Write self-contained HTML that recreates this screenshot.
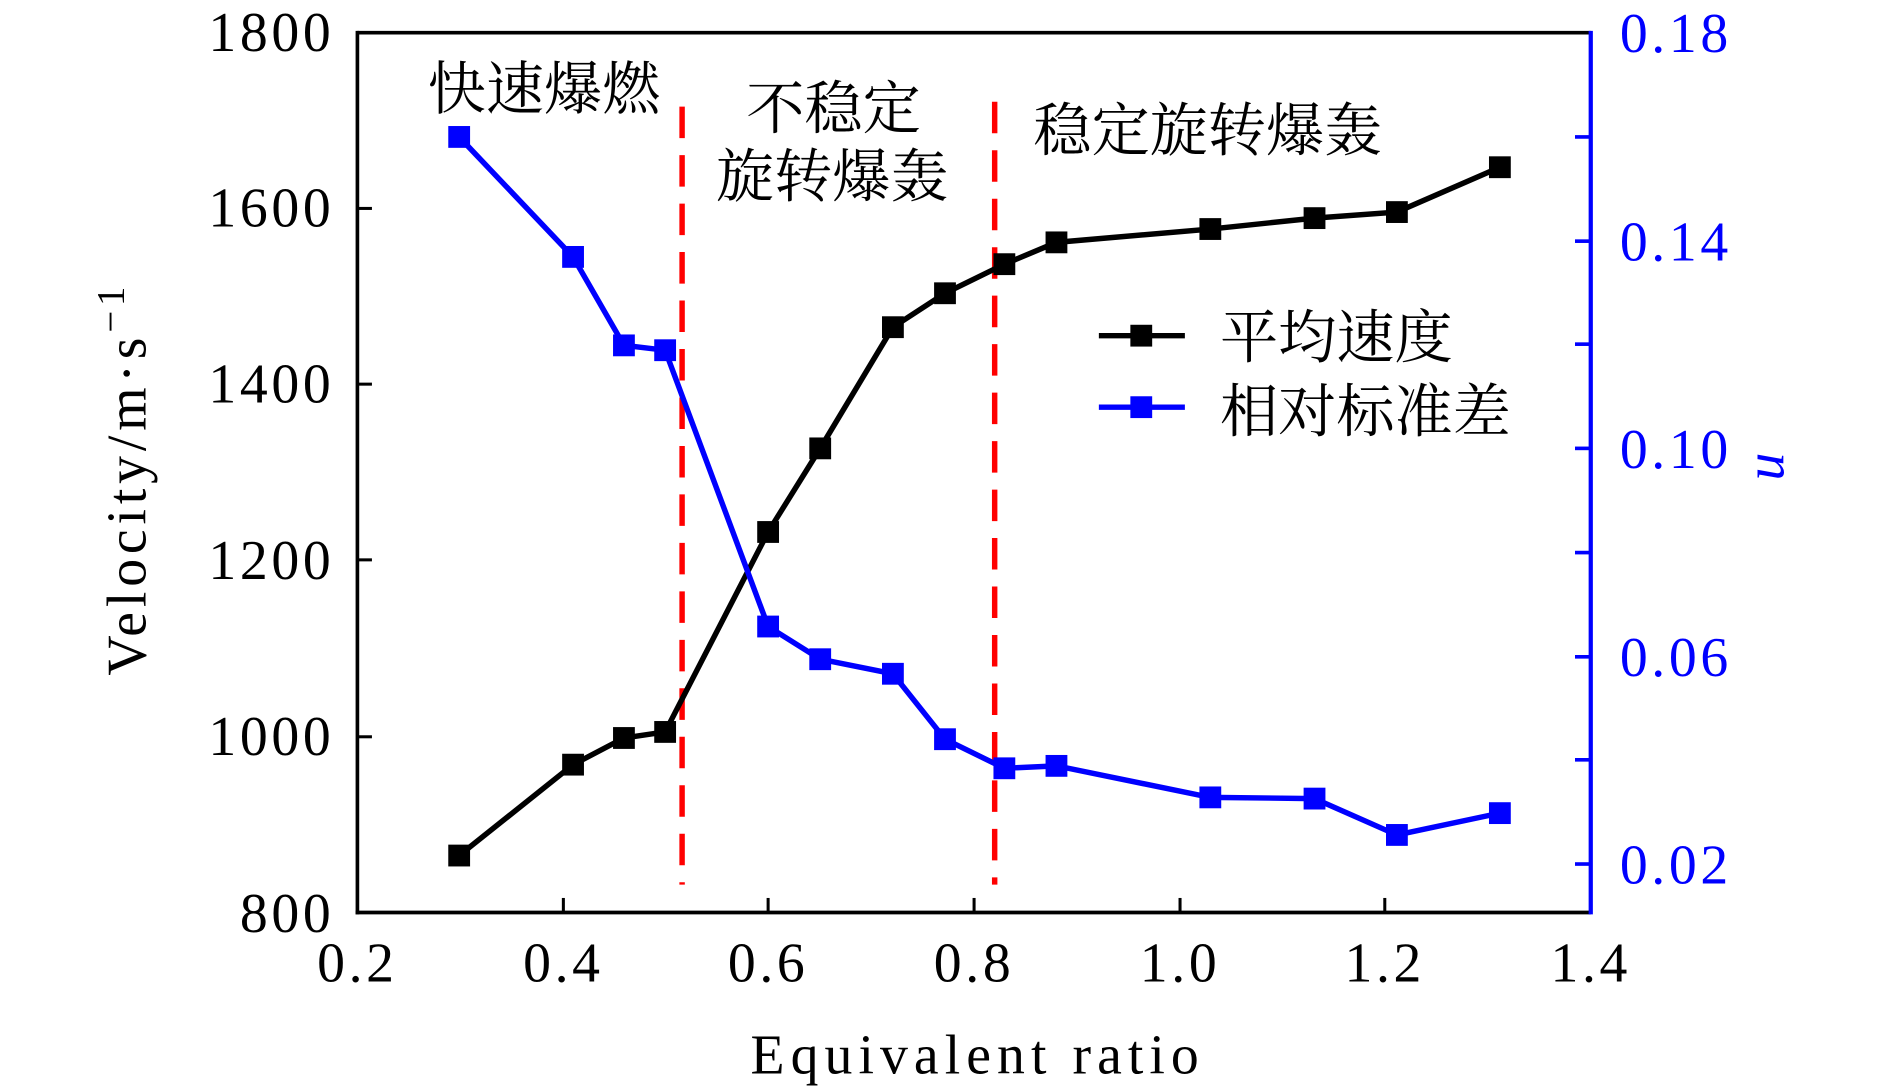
<!DOCTYPE html>
<html><head><meta charset="utf-8"><style>html,body{margin:0;padding:0;background:#fff;}svg{display:block}</style></head>
<body>
<svg width="1890" height="1087" viewBox="0 0 1560 897" preserveAspectRatio="none" xmlns="http://www.w3.org/2000/svg">
<g font-family="Liberation Serif, serif" font-size="46">
<line x1="295" y1="27" x2="1313" y2="27" stroke="#000" stroke-width="3"/>
<line x1="295" y1="25.5" x2="295" y2="754.5" stroke="#000" stroke-width="3"/>
<line x1="293.5" y1="753" x2="1313" y2="753" stroke="#000" stroke-width="3"/>
<line x1="1313" y1="25.5" x2="1313" y2="754.5" stroke="#0000ff" stroke-width="3.5"/>
<g stroke="#000" stroke-width="2.5">
<line x1="295" y1="172" x2="307" y2="172"/><line x1="295" y1="317" x2="307" y2="317"/>
<line x1="295" y1="462" x2="307" y2="462"/><line x1="295" y1="608" x2="307" y2="608"/>
<line x1="465" y1="753" x2="465" y2="741"/><line x1="634" y1="753" x2="634" y2="741"/>
<line x1="804" y1="753" x2="804" y2="741"/><line x1="974" y1="753" x2="974" y2="741"/>
<line x1="1143" y1="753" x2="1143" y2="741"/>
</g>
<g stroke="#0000ff" stroke-width="3">
<line x1="1300" y1="113" x2="1313" y2="113"/><line x1="1300" y1="199" x2="1313" y2="199"/>
<line x1="1300" y1="284" x2="1313" y2="284"/><line x1="1300" y1="370" x2="1313" y2="370"/>
<line x1="1300" y1="456" x2="1313" y2="456"/><line x1="1300" y1="542" x2="1313" y2="542"/>
<line x1="1300" y1="627" x2="1313" y2="627"/><line x1="1300" y1="713" x2="1313" y2="713"/>
</g>
<g text-anchor="end" letter-spacing="3">
<text x="276" y="42">1800</text><text x="276" y="187">1600</text><text x="276" y="332">1400</text>
<text x="276" y="478">1200</text><text x="276" y="623">1000</text><text x="276" y="769">800</text>
</g>
<g text-anchor="middle" letter-spacing="3">
<text x="295" y="810">0.2</text><text x="465" y="810">0.4</text><text x="634" y="810">0.6</text>
<text x="804" y="810">0.8</text><text x="974" y="810">1.0</text><text x="1143" y="810">1.2</text><text x="1313" y="810">1.4</text>
<text x="807" y="886" letter-spacing="5">Equivalent ratio</text>
</g>
<g fill="#0000ff" letter-spacing="3">
<text x="1337" y="43">0.18</text><text x="1337" y="215">0.14</text><text x="1337" y="386">0.10</text>
<text x="1337" y="558">0.06</text><text x="1337" y="729">0.02</text>
</g>
<text fill="#0000ff" font-style="italic" transform="translate(1472,385) rotate(-90)" text-anchor="middle">u</text>
<text transform="translate(120,395) rotate(-90)" text-anchor="middle" letter-spacing="4">Velocity/m·s<tspan font-size="32" dy="-18">−1</tspan></text>
<g stroke="#ff0000" stroke-width="4.5" stroke-dasharray="26,14">
<line x1="563" y1="88" x2="563" y2="730"/><line x1="821" y1="84" x2="821" y2="730"/>
</g>
<g font-family="Liberation Serif, 'Noto Serif CJK SC', 'Noto Sans CJK SC', serif" font-size="48">
<text x="353" y="90">快速爆燃</text>
<text x="616" y="106">不稳定</text>
<text x="591" y="162">旋转爆轰</text>
<text x="853" y="124">稳定旋转爆轰</text>
<text x="1007" y="295">平均速度</text>
<text x="1007" y="356">相对标准差</text>
</g>
<line x1="907" y1="277" x2="978" y2="277" stroke="#000" stroke-width="4.5"/>
<rect x="933" y="268" width="18" height="18" fill="#000"/>
<line x1="907" y1="336" x2="978" y2="336" stroke="#0000ff" stroke-width="4.5"/>
<rect x="933" y="327" width="18" height="18" fill="#0000ff"/>
<polyline fill="none" stroke="#000" stroke-width="4.5" points="379,706 473,631 515,609 549,604 634,439 677,370 737,270 780,242 829,218 872,200 999,189 1085,180 1153,175 1238,138"/>
<polyline fill="none" stroke="#0000ff" stroke-width="4.5" points="379,113 473,212 515,285 549,289 634,517 677,544 737,556 780,610 829,634 872,632 999,658 1085,659 1153,689 1238,671"/>
<g fill="#000" transform="translate(-1,-1)">
<rect x="371" y="698" width="18" height="18"/><rect x="465" y="623" width="18" height="18"/><rect x="507" y="601" width="18" height="18"/><rect x="541" y="596" width="18" height="18"/><rect x="626" y="431" width="18" height="18"/><rect x="669" y="362" width="18" height="18"/><rect x="729" y="262" width="18" height="18"/><rect x="772" y="234" width="18" height="18"/><rect x="821" y="210" width="18" height="18"/><rect x="864" y="192" width="18" height="18"/><rect x="991" y="181" width="18" height="18"/><rect x="1077" y="172" width="18" height="18"/><rect x="1145" y="167" width="18" height="18"/><rect x="1230" y="130" width="18" height="18"/>
</g>
<g fill="#0000ff" transform="translate(-1,-1)">
<rect x="371" y="105" width="18" height="18"/><rect x="465" y="204" width="18" height="18"/><rect x="507" y="277" width="18" height="18"/><rect x="541" y="281" width="18" height="18"/><rect x="626" y="509" width="18" height="18"/><rect x="669" y="536" width="18" height="18"/><rect x="729" y="548" width="18" height="18"/><rect x="772" y="602" width="18" height="18"/><rect x="821" y="626" width="18" height="18"/><rect x="864" y="624" width="18" height="18"/><rect x="991" y="650" width="18" height="18"/><rect x="1077" y="651" width="18" height="18"/><rect x="1145" y="681" width="18" height="18"/><rect x="1230" y="663" width="18" height="18"/>
</g>
</g>
</svg>
</body></html>
